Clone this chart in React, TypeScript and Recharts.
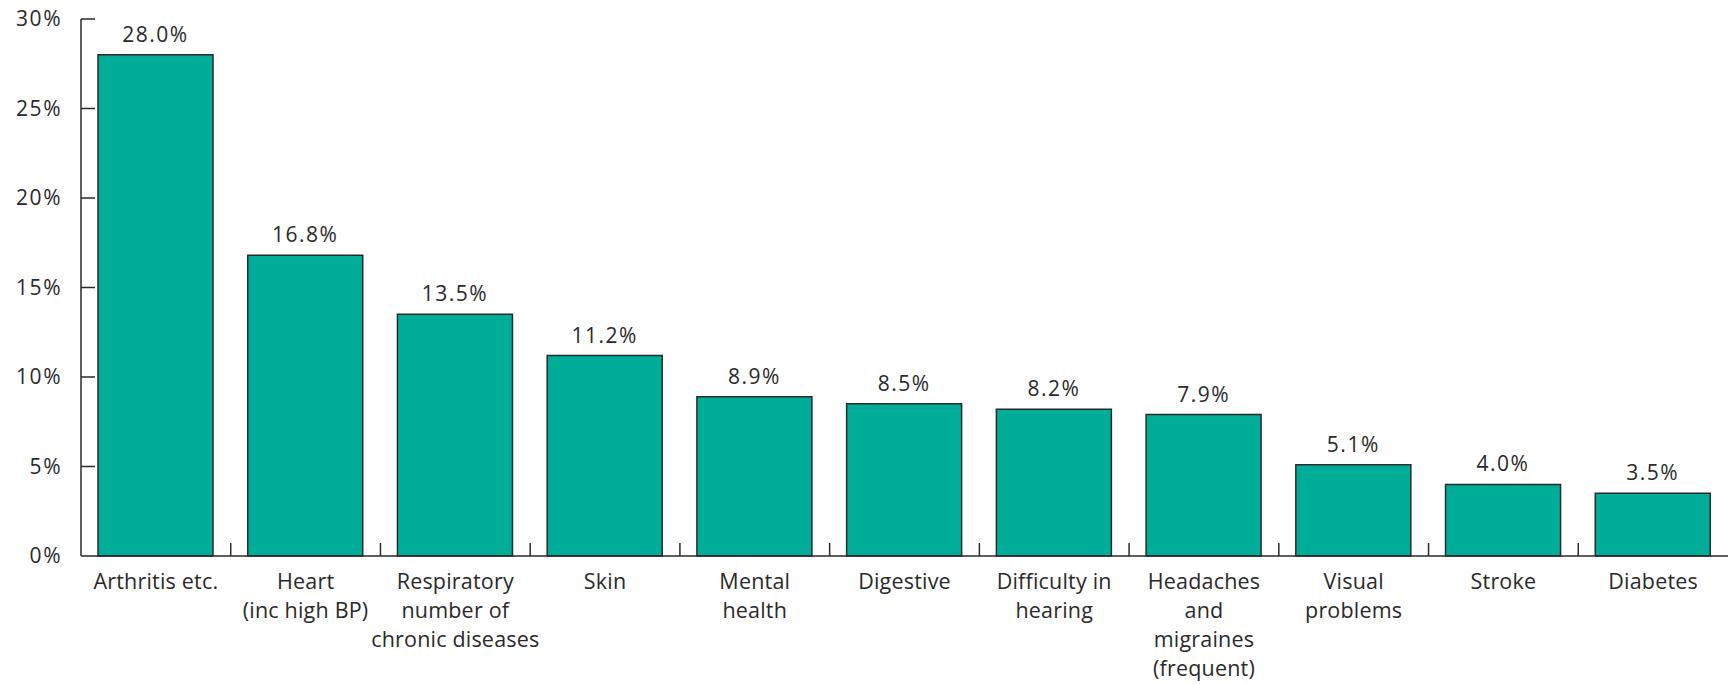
import { BarChart, Bar, XAxis, YAxis, LabelList } from "recharts";

const categories = [
  "Arthritis etc.",
  "Heart\n(inc high BP)",
  "Respiratory\nnumber of\nchronic diseases",
  "Skin",
  "Mental\nhealth",
  "Digestive",
  "Difficulty in\nhearing",
  "Headaches\nand\nmigraines\n(frequent)",
  "Visual\nproblems",
  "Stroke",
  "Diabetes",
];
const values = [28.0, 16.8, 13.5, 11.2, 8.9, 8.5, 8.2, 7.9, 5.1, 4.0, 3.5];
const yTicks = [0, 5, 10, 15, 20, 25, 30];

const W = 1728;
const H = 685;
const Y_AXIS_W = 81;
const BAND = (W - Y_AXIS_W) / categories.length;
const INK = "#2a2a2a";
const FONT = "'Open Sans', sans-serif";

const data = categories.map((name, i) => ({ name, value: values[i] }));

function YTick({ x, y, payload }: any) {
  return (
    <g>
      {payload.value > 0 && <line x1={x} x2={x + 14} y1={y} y2={y} stroke={INK} strokeWidth={1.5} />}
      <text
        x={x - 19}
        y={y}
        dy={7}
        textAnchor="end"
        fill={INK}
        fontSize={21}
        fontFamily={FONT}
        letterSpacing={1.5}
      >
        {payload.value}%
      </text>
    </g>
  );
}

function XTick({ x, y, payload, index }: any) {
  const lines = String(payload.value).split("\n");
  const edge = x - BAND / 2;
  return (
    <g>
      {index > 0 && <line x1={edge} x2={edge} y1={y} y2={y - 13} stroke={INK} strokeWidth={1.5} />}
      <text x={x} y={y + 33} textAnchor="middle" fill={INK} fontSize={21.5} fontFamily={FONT} letterSpacing={0.2}>
        {lines.map((l, i) => (
          <tspan key={i} x={x} dy={i === 0 ? 0 : 29}>
            {l}
          </tspan>
        ))}
      </text>
    </g>
  );
}

export default function App() {
  return (
    <div style={{ position: "absolute", left: 0, top: 0, width: W, height: H, overflow: "hidden" }}>
      <BarChart width={W} height={H} data={data} margin={{ top: 19, right: 0, bottom: 29, left: 0 }}>
        <YAxis
          domain={[0, 30]}
          ticks={yTicks}
          width={Y_AXIS_W}
          interval={0}
          axisLine={{ stroke: INK, strokeWidth: 1.5 }}
          tickLine={false}
          tickSize={0}
          tickMargin={0}
          tick={<YTick />}
        />
        <XAxis
          dataKey="name"
          height={100}
          interval={0}
          axisLine={{ stroke: INK, strokeWidth: 1.5 }}
          tickLine={false}
          tickSize={0}
          tickMargin={0}
          tick={<XTick />}
        />
        <Bar
          dataKey="value"
          fill="#00ad99"
          stroke={INK}
          strokeWidth={1.5}
          barSize={115}
          isAnimationActive={false}
        >
          <LabelList
            dataKey="value"
            position="top"
            offset={13}
            formatter={(v: any) => `${Number(v).toFixed(1)}%`}
            fill={INK}
            fontSize={21}
            fontFamily={FONT}
            letterSpacing={1.5}
          />
        </Bar>
      </BarChart>
    </div>
  );
}
